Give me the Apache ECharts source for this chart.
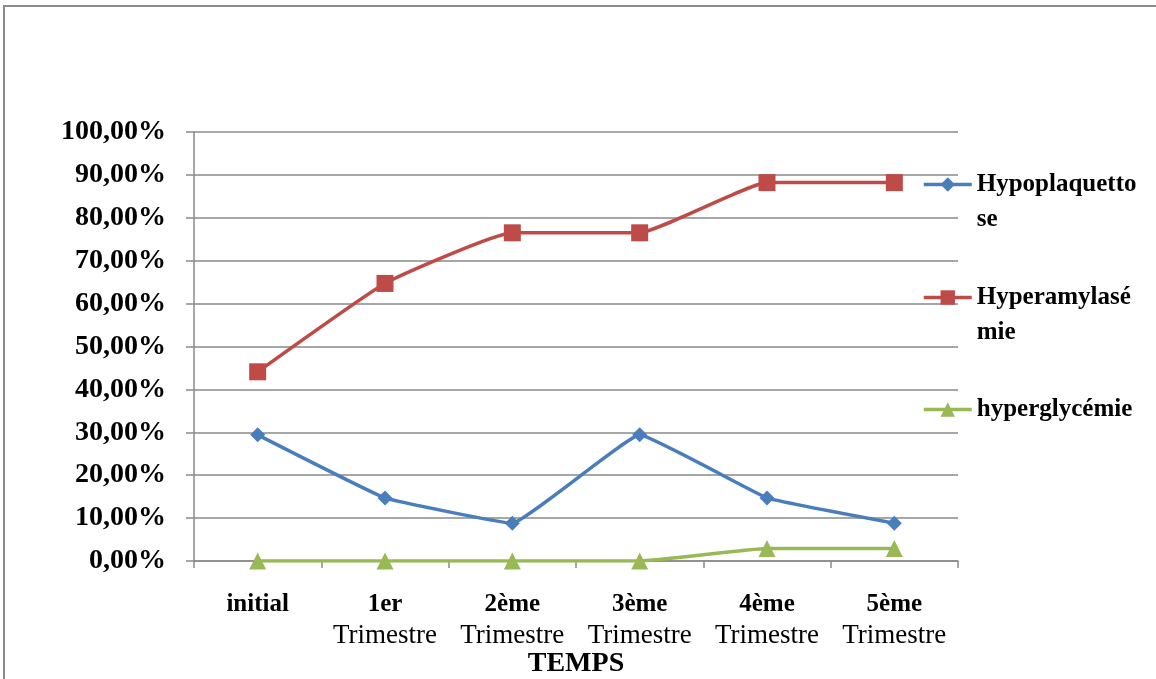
<!DOCTYPE html>
<html>
<head>
<meta charset="utf-8">
<script src="https://cdn.jsdelivr.net/npm/echarts@6/dist/echarts.min.js"></script>
<style>
html,body{margin:0;padding:0;background:#fff;}
#chart{width:1156px;height:679px;}
</style>
</head>
<body>
<div id="chart"></div>
<script>
const categories = ['initial', '1er\nTrimestre', '2ème\nTrimestre', '3ème\nTrimestre', '4ème\nTrimestre', '5ème\nTrimestre'];
const hypoplaquettose = [29.4, 14.7, 8.8, 29.4, 14.7, 8.8];
const hyperamylasemie = [44.1, 64.7, 76.5, 76.5, 88.2, 88.2];
const hyperglycemie = [0, 0, 0, 0, 2.9, 2.9];
const seriesNames = ['Hypoplaquettose', 'Hyperamylasémie', 'hyperglycémie'];
const legendLabels = ['Hypoplaquetto\nse', 'Hyperamylasé\nmie', 'hyperglycémie'];
const xAxisTitle = 'TEMPS';

const FONT = '"Liberation Serif", "Times New Roman", serif';
const chart = echarts.init(document.getElementById('chart'));

function legendFor(i, top) {
  return {
    data: [seriesNames[i]],
    orient: 'vertical',
    left: 917,
    top: top,
    itemWidth: 48,
    itemHeight: 18,
    itemGap: 0,
    lineStyle: { width: 3.5 },
    formatter: function () {
      const l = legendLabels[i].split('\n');
      return l.length > 1 ? '\u00a0\n' + l.join('\n') : l[0];
    },
    textStyle: { fontFamily: FONT, fontWeight: 'bold', fontSize: 25, color: '#000', lineHeight: 35 }
  };
}

const option = {
  animation: false,
  backgroundColor: '#fff',
  graphic: [{
    type: 'rect',
    shape: { x: 4, y: 6, width: 1200, height: 700 },
    style: { fill: 'none', stroke: '#8c8c8c', lineWidth: 2 },
    silent: true
  }],
  legend: [legendFor(0, 127), legendFor(1, 240), legendFor(2, 387)],
  grid: { left: 194, right: 198, top: 132, bottom: 118, containLabel: false, outerBoundsMode: 'none' },
  xAxis: {
    type: 'category',
    data: categories,
    boundaryGap: true,
    name: xAxisTitle,
    nameLocation: 'middle',
    nameGap: 89,
    nameMoveOverlap: false,
    nameTextStyle: { fontFamily: FONT, fontWeight: 'bold', fontSize: 28, color: '#000' },
    axisLine: { lineStyle: { color: '#8a8a8a', width: 1.5 } },
    axisTick: { show: true, alignWithLabel: false, length: 7, lineStyle: { color: '#8a8a8a', width: 1.5 } },
    axisLabel: {
      margin: 28,
      interval: 0,
      formatter: function (v) {
        const l = v.split('\n');
        return '{b|' + l[0] + '}' + (l[1] ? '\n{r|' + l[1] + '}' : '');
      },
      rich: {
        b: { fontFamily: FONT, fontWeight: 'bold', fontSize: 25, color: '#000', lineHeight: 31 },
        r: { fontFamily: FONT, fontWeight: 'normal', fontSize: 27, color: '#000', lineHeight: 31 }
      }
    }
  },
  yAxis: {
    type: 'value',
    min: 0,
    max: 100,
    interval: 10,
    axisLine: { show: true, lineStyle: { color: '#8a8a8a', width: 1.5 } },
    axisTick: { show: true, length: 8, lineStyle: { color: '#8a8a8a', width: 1.5 } },
    splitLine: { show: true, lineStyle: { color: '#8a8a8a', width: 1.5 } },
    axisLabel: {
      margin: 28,
      fontFamily: FONT,
      fontWeight: 'bold',
      fontSize: 28,
      color: '#000',
      formatter: function (v) { return v.toFixed(2).replace('.', ',') + '%'; }
    }
  },
  series: [
    {
      name: seriesNames[0], type: 'line', data: hypoplaquettose,
      smooth: 0.08,
      symbol: 'diamond', symbolSize: 15,
      lineStyle: { color: '#4a7ebb', width: 3.5 },
      itemStyle: { color: '#4a7ebb' }
    },
    {
      name: seriesNames[1], type: 'line', data: hyperamylasemie,
      smooth: 0.12,
      symbol: 'rect', symbolSize: 17,
      lineStyle: { color: '#be4b48', width: 3.5 },
      itemStyle: { color: '#be4b48' }
    },
    {
      name: seriesNames[2], type: 'line', data: hyperglycemie,
      smooth: 0.12,
      symbol: 'triangle', symbolSize: 17,
      lineStyle: { color: '#98b954', width: 3.5 },
      itemStyle: { color: '#98b954' }
    }
  ]
};
chart.setOption(option);
</script>
</body>
</html>
